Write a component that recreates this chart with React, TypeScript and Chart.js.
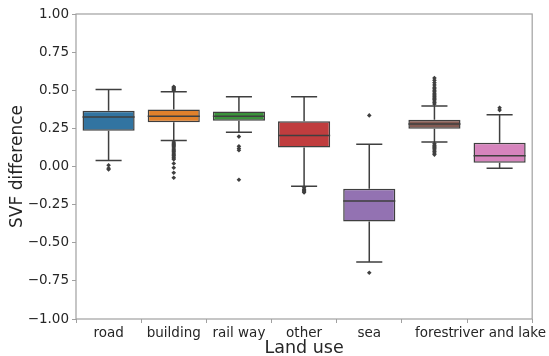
import React, { useEffect, useRef } from "react";
import { Chart, registerables } from "chart.js";

Chart.register(...registerables);

const categories = ["road", "building", "rail way", "other", "sea", "forest", "river and lake"];
const colors = ["#3274a1", "#e1812c", "#3a923a", "#c03d3e", "#9372b2", "#845b53", "#d684bd"];

const whiskerLow = [0.04, 0.17, 0.224, -0.13, -0.627, 0.161, -0.011];
const q1 = [0.235, 0.29, 0.30, 0.124, -0.36, 0.248, 0.024];
const median = [0.325, 0.33, 0.33, 0.203, -0.227, 0.279, 0.07];
const q3 = [0.366, 0.373, 0.36, 0.296, -0.146, 0.307, 0.155];
const whiskerHigh = [0.505, 0.49, 0.457, 0.457, 0.146, 0.397, 0.34];

const outliers: number[][] = [
  [0.008, -0.012, -0.02],
  [0.5, 0.505, 0.512, 0.518, 0.523, 0.16, 0.152, 0.145, 0.137, 0.13, 0.121, 0.113, 0.104, 0.097, 0.088, 0.08, 0.072, 0.063, 0.055, 0.047, 0.02, -0.008, -0.041, -0.074],
  [0.196, 0.132, 0.118, 0.107, -0.087],
  [-0.14, -0.15, -0.158, -0.165, -0.17],
  [0.335, -0.697],
  [0.41, 0.42, 0.43, 0.44, 0.447, 0.455, 0.463, 0.47, 0.48, 0.49, 0.5, 0.51, 0.52, 0.535, 0.55, 0.565, 0.58, 0.15, 0.14, 0.132, 0.125, 0.117, 0.108, 0.098, 0.088, 0.078],
  [0.37, 0.385],
];

const yTicks = [-1, -0.75, -0.5, -0.25, 0, 0.25, 0.5, 0.75, 1];

const LINE = "#3f3f3f";

const boxPlugin = {
  id: "boxParts",
  afterDatasetsDraw(chart: any) {
    const { ctx, scales } = chart;
    const xs = scales.x;
    const ys = scales.y;
    const step = xs.getPixelForValue(1) - xs.getPixelForValue(0);
    const half = step * 0.4;
    const cap = half / 2;
    ctx.save();
    ctx.strokeStyle = LINE;
    ctx.lineWidth = 1.5;
    categories.forEach((_, i) => {
      const x = xs.getPixelForValue(i);
      const yl = ys.getPixelForValue(whiskerLow[i]);
      const y1 = ys.getPixelForValue(q1[i]);
      const y3 = ys.getPixelForValue(q3[i]);
      const yh = ys.getPixelForValue(whiskerHigh[i]);
      const ym = ys.getPixelForValue(median[i]);
      ctx.beginPath();
      ctx.moveTo(x, y1);
      ctx.lineTo(x, yl);
      ctx.moveTo(x - cap, yl);
      ctx.lineTo(x + cap, yl);
      ctx.moveTo(x, y3);
      ctx.lineTo(x, yh);
      ctx.moveTo(x - cap, yh);
      ctx.lineTo(x + cap, yh);
      ctx.moveTo(x - half, ym);
      ctx.lineTo(x + half, ym);
      ctx.stroke();
    });
    ctx.restore();
  },
  afterDraw(chart: any) {
    const { ctx, chartArea } = chart;
    ctx.save();
    ctx.strokeStyle = "#a0a0a0";
    ctx.lineWidth = 1.2;
    ctx.strokeRect(chartArea.left, chartArea.top, chartArea.right - chartArea.left, chartArea.bottom - chartArea.top);
    ctx.restore();
  },
};

export default function App() {
  const ref = useRef<HTMLCanvasElement>(null);
  useEffect(() => {
    document.body.style.margin = "0";
    const outlierData: any[] = [];
    outliers.forEach((arr, i) => arr.forEach((v) => outlierData.push({ x: categories[i], y: v })));
    const chart = new Chart(ref.current!, {
      type: "bar",
      data: {
        labels: categories,
        datasets: [
          {
            type: "bar",
            data: categories.map((_, i) => [q1[i], q3[i]]) as any,
            backgroundColor: colors,
            borderColor: LINE,
            borderWidth: 1.5,
            borderSkipped: false,
            barPercentage: 0.8,
            categoryPercentage: 1,
          } as any,
          {
            type: "line",
            data: outlierData,
            showLine: false,
            pointStyle: "rectRot",
            pointRadius: 2.3,
            pointBackgroundColor: LINE,
            pointBorderColor: LINE,
            pointBorderWidth: 0,
          } as any,
        ],
      },
      options: {
        animation: false,
        responsive: false,
        layout: { padding: { left: 0, right: 14, top: 14, bottom: 0 } },
        plugins: { legend: { display: false }, tooltip: { enabled: false } },
        scales: {
          x: {
            type: "category",
            offset: true,
            grid: { display: true, drawOnChartArea: false, drawTicks: true, tickLength: 4, color: "#a0a0a0" },
            border: { display: false },
            ticks: { autoSkip: false, maxRotation: 0, minRotation: 0, color: "#262626", font: { family: "DejaVu Sans", size: 13.5 }, padding: 2 },
            title: { display: true, text: "Land use", color: "#262626", font: { family: "DejaVu Sans", size: 17.5 }, padding: { top: 0, bottom: -3 } },
            afterFit: (s: any) => { s.height = 37; },
          },
          y: {
            min: -1,
            max: 1,
            afterBuildTicks: (s: any) => { s.ticks = yTicks.map((v) => ({ value: v })); },
            grid: { display: true, drawOnChartArea: false, drawTicks: true, tickLength: 4, color: "#a0a0a0" },
            border: { display: false },
            ticks: {
              color: "#262626",
              font: { family: "DejaVu Sans", size: 13.5 },
              padding: 3,
              callback: (v: any) => { const n = Number(v); return (n < 0 ? "\u2212" : "") + Math.abs(n).toFixed(2); },
            },
            title: { display: true, text: "SVF difference", color: "#262626", font: { family: "DejaVu Sans", size: 17 }, padding: { top: 7, bottom: 0 } },
            afterFit: (s: any) => { s.width = 76; },
          },
        },
      },
      plugins: [boxPlugin],
    });
    return () => chart.destroy();
  }, []);
  return (
    <div style={{ width: 549, height: 356 }}>
      <canvas ref={ref} width={549} height={356} style={{ display: "block" }} />
    </div>
  );
}
